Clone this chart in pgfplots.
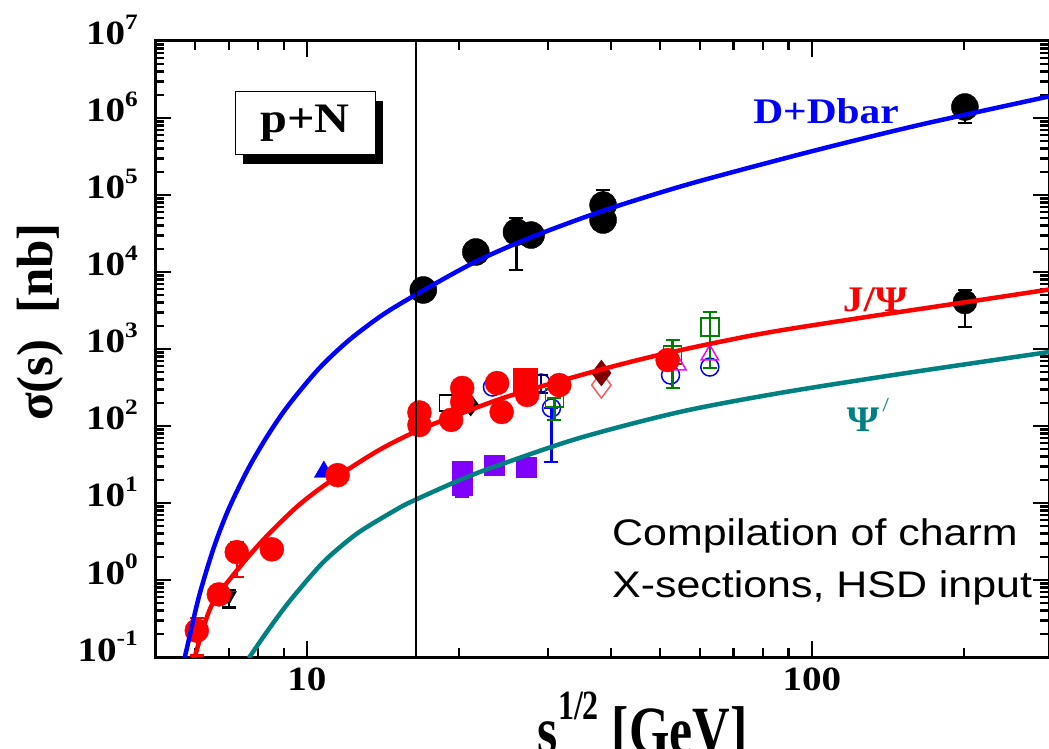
\documentclass[border=0pt]{standalone}
\usepackage{fontspec}
\setmainfont{Liberation Serif}[FakeStretch=1.15]
\setsansfont{Liberation Sans}[FakeStretch=1.16]
\newfontfamily\plainserif{Liberation Serif}
\usepackage{pgfplots}
\pgfplotsset{compat=1.18}
\definecolor{tealc}{RGB}{0,128,128}
\definecolor{violetc}{RGB}{128,0,255}
\definecolor{maroonc}{RGB}{128,0,0}
\definecolor{salmonc}{RGB}{255,90,90}
\definecolor{greenc}{RGB}{0,128,0}
\definecolor{navyc}{RGB}{0,0,128}
\definecolor{pinkc}{RGB}{255,0,255}
\newcommand{\tp}[1]{10\raisebox{0.45em}{\fontsize{22}{22}\selectfont #1}}
\pgfplotsset{
  errs/.style={error bars/.cd, y dir=both, y explicit,
    error bar style={line width=2.5pt},
    error mark options={rotate=90, mark size=7pt, line width=2.5pt}},
}
\begin{document}
\begin{tikzpicture}
\begin{axis}[
  scale only axis, width=894pt, height=616pt,
  xmode=log, ymode=log, xmin=5, xmax=295, ymin=0.1, ymax=1e7,
  axis line style={line width=3pt},
  tick align=inside, major tick length=16pt, minor tick length=9pt,
  tick style={black, line width=2.5pt},
  xtick={10,100}, xticklabels={10,100},
  minor xtick={6,7,8,9,20,30,40,50,60,70,80,90,200},
  ytick={1e-1,1,1e1,1e2,1e3,1e4,1e5,1e6,1e7},
  yticklabels={\tp{-1},\tp{0},\tp{1},\tp{2},\tp{3},\tp{4},\tp{5},\tp{6},\tp{7}},
  minor ytick={0.2,0.3,0.4,0.5,0.6,0.7,0.8,0.9,2,3,4,5,6,7,8,9,20,30,40,50,60,70,80,90,
    200,300,400,500,600,700,800,900,2e3,3e3,4e3,5e3,6e3,7e3,8e3,9e3,
    2e4,3e4,4e4,5e4,6e4,7e4,8e4,9e4,2e5,3e5,4e5,5e5,6e5,7e5,8e5,9e5,
    2e6,3e6,4e6,5e6,6e6,7e6,8e6,9e6},
  ticklabel style={font=\bfseries\fontsize{34}{34}\selectfont},
  yticklabel style={anchor=base east, inner sep=0pt, xshift=-17pt, yshift=-4pt},
  xticklabel style={anchor=north, inner sep=0pt, yshift=-11pt},
  xlabel={\scalebox{1}[1.3]{s\raisebox{0.5em}{\fontsize{32}{32}\selectfont 1/2}\ [GeV]}},
  ylabel={σ(s)\ \ [nb]},
  xlabel style={font=\plainserif\bfseries\fontsize{52}{52}\selectfont,
    at={(axis description cs:0.5456,-0.157)}, anchor=base},
  ylabel style={font=\plainserif\bfseries\fontsize{51}{51}\selectfont,
    at={(axis description cs:-0.1286,0.544)}, anchor=center},
  clip mode=individual,
]
% ---- data: D + Dbar (black)
\addplot[only marks, mark=*, mark size=13.5pt, black, errs] coordinates {
 (26.0,33000) += (0,17200) -= (0,22400)
 (38.6,74000) += (0,42000) -= (0,0)
 (201,1.39e6) += (0,0) -= (0,5.3e5)
};
\addplot[only marks, mark=*, mark size=13.5pt, black] coordinates {
 (17.0,5840) (21.6,18200) (27.8,30200) (38.6,47300)
};
% J/psi black at RHIC
\addplot[only marks, mark=*, mark size=12pt, black, errs] coordinates {
 (201,4070) += (0,1770) -= (0,2140)
};
% black inverted triangle
\addplot[only marks, mark=triangle*, mark size=9pt, mark options={rotate=180}, black, errs] coordinates {
 (7.0,0.62) += (0,0.12) -= (0,0.18)
};
\addplot[only marks, mark=square, mark size=8pt, mark options={line width=1.5pt}, black] coordinates {(19.0,199)};
\addplot[only marks, mark=diamond*, mark size=11pt, black] coordinates {(21.1,187)};
% blue open circles
\addplot[only marks, mark=o, mark size=9pt, mark options={line width=1.5pt}, blue] coordinates {
 (23.3,321) (52.5,459) (62.8,583)};
\addplot[only marks, mark=o, mark size=9pt, mark options={line width=1.5pt}, blue, errs] coordinates {
 (30.5,171) += (0,0) -= (0,137)};
% navy open circle
\addplot[only marks, mark=o, mark size=9pt, mark options={line width=1.5pt}, navyc, errs] coordinates {
 (29.1,361) += (0,98) -= (0,93)};
% green open squares
\addplot[only marks, mark=square, mark size=9pt, mark options={line width=1.5pt}, greenc, errs] coordinates {
 (30.9,231) += (0,0) -= (0,111)
 (53,836) += (0,474) -= (0,524)
 (62.8,1930) += (0,1090) -= (0,1364)};
% magenta open triangles
\addplot[only marks, mark=triangle, mark size=10pt, mark options={line width=1.5pt}, pinkc] coordinates {
 (54.2,620) (62.8,836)};
% diamonds
\addplot[only marks, mark=diamond, mark size=13pt, mark options={line width=1.5pt}, salmonc] coordinates {(38.3,340)};
\addplot[only marks, mark=diamond*, mark size=13pt, maroonc] coordinates {(38.3,487)};
% blue triangle
\addplot[only marks, mark=triangle*, mark size=11pt, blue] coordinates {(10.8,25.3)};
% red J/psi data
\addplot[only marks, mark=*, mark size=12pt, red, errs] coordinates {
 (6.05,0.22) += (0,0.10) -= (0,0.115)
 (7.26,2.3) += (0,0.8) -= (0,1.2)
 (8.52,2.5) += (0,0.3) -= (0,0.3)
};
\addplot[only marks, mark=*, mark size=12pt, red] coordinates {
 (6.69,0.65) (11.5,23) (16.7,150) (16.7,103) (19.3,120) (20.3,312) (20.3,205)
 (23.8,361) (24.3,152) (27.3,253) (31.6,340) (51.8,719)
};
\addplot[only marks, mark=square*, mark size=12pt, red] coordinates {(27.0,395)};
% psi' data
\addplot[only marks, mark=square*, mark size=10pt, violetc, errs] coordinates {
 (20.3,17) += (0,0) -= (0,5)};
\addplot[only marks, mark=square*, mark size=10pt, violetc] coordinates {
 (20.3,26) (23.5,31) (27.2,29.4)};
% ---- HSD curves
\addplot[blue, line width=4.5pt, smooth] coordinates {
 (5.675,0.0787) (5.754,0.1127) (6.107,0.5996) (6.539,2.636) (7.003,8.458) (7.672,28.83)
 (8.406,79.66) (9.210,189.6) (10.56,556.7) (12.12,1305) (14.21,2856) (16.99,5751)
 (21.64,13730) (27.95,28650) (37.96,60160) (49.93,1.068e5) (62.78,1.648e5)
 (101.4,3.784e5) (163.8,8.16e5) (295.3,1.908e6)
};
\addplot[red, line width=4.5pt, smooth] coordinates {
 (5.94,0.0787) (6.024,0.1127) (6.479,0.4734) (7.331,1.432) (8.292,3.618) (9.640,9.42)
 (11.21,19.89) (13.90,48.78) (16.68,88.74) (20.30,147.5) (25.51,252.7) (37.96,533.7)
 (51.80,887.3) (78.86,1566) (124.5,2527) (215.4,4329) (295.3,5926)
};
\addplot[tealc, line width=4.5pt, smooth] coordinates {
 (7.672,0.0970) (8.406,0.2310) (9.210,0.5179) (10.42,1.349) (11.21,2.176) (12.69,4.201)
 (15.22,8.611) (16.53,11.27) (20.30,20.50) (24.04,31.16) (34.65,69.86) (54.72,152.0)
 (86.42,268.3) (149.5,473.5) (295.3,914.2)
};
% vertical line
\addplot[black, line width=1.3pt] coordinates {(16.45,0.1) (16.45,1e7)};
% ---- annotations
\node[fill=black, minimum width=140pt, minimum height=63pt, inner sep=0pt, xshift=8pt, yshift=-9pt]
  at (axis description cs:0.1678,0.8661) {};
\node[fill=white, draw=black, line width=1pt, minimum width=140pt, minimum height=63pt, inner sep=0pt,
  font=\bfseries\fontsize{42}{42}\selectfont] at (axis description cs:0.1678,0.8661) {p+N};
\node[blue, font=\bfseries\fontsize{36}{36}\selectfont] at (axis description cs:0.7506,0.8864) {D+Dbar};
\node[red, font=\bfseries\fontsize{36}{36}\selectfont] at (axis description cs:0.8054,0.5795) {J/Ψ};
\node[tealc, font=\bfseries\fontsize{36}{36}\selectfont] at (axis description cs:0.7975,0.393)
  {Ψ\raisebox{0.55em}{\mdseries\fontsize{20}{20}\selectfont\,/}};
\node[anchor=base west, inner sep=0pt, font=\sffamily\fontsize{37}{37}\selectfont]
  at (axis description cs:0.5112,0.1818) {Compilation of charm};
\node[anchor=base west, inner sep=0pt, font=\sffamily\fontsize{37}{37}\selectfont]
  at (axis description cs:0.5112,0.0974) {X-sections, HSD input};
\coordinate (SW) at (rel axis cs:0,0);
\coordinate (NE) at (rel axis cs:1,1);
\end{axis}
\pgfresetboundingbox
\path[use as bounding box] ([xshift=-155pt,yshift=-92pt]SW) rectangle ([yshift=41pt]NE);
\end{tikzpicture}
\end{document}
